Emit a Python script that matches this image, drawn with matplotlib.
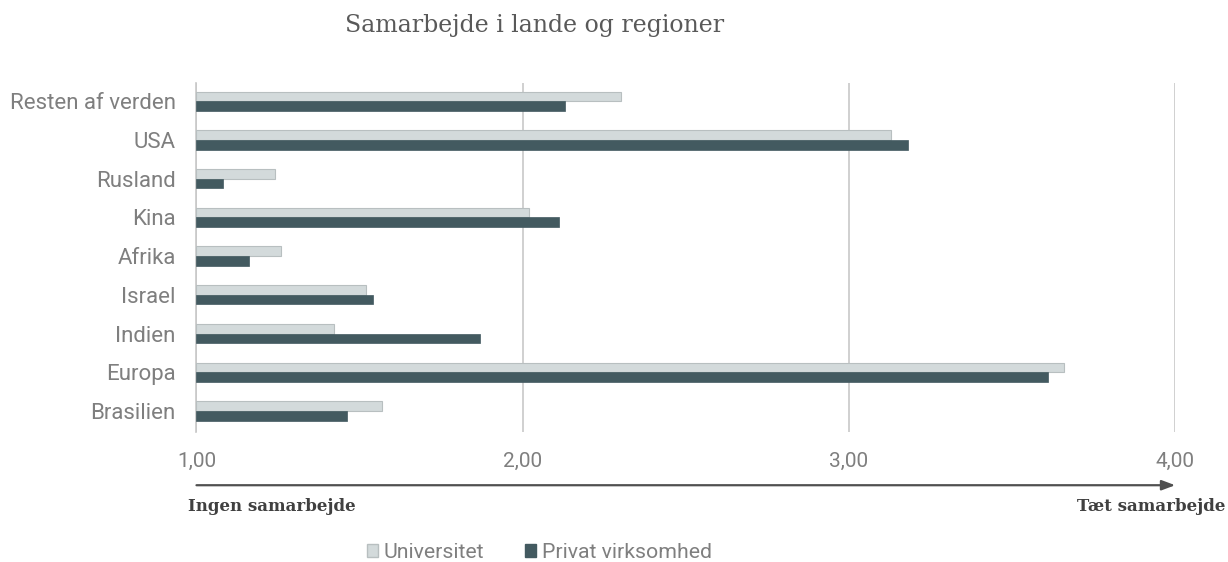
import numpy as np
import matplotlib
matplotlib.use("Agg")
import matplotlib.pyplot as plt
from matplotlib.patches import Patch

# categories listed bottom -> top
regions = ["Brasilien", "Europa", "Indien", "Israel", "Afrika", "Kina",
           "Rusland", "USA", "Resten af verden"]
universitet = [1.57, 3.66, 1.42, 1.52, 1.26, 2.02, 1.24, 3.13, 2.30]
privat = [1.46, 3.61, 1.87, 1.54, 1.16, 2.11, 1.08, 3.18, 2.13]
xticks = [1.0, 2.0, 3.0, 4.0]

UNI = "#d3dadb"
PRIV = "#435a60"
TEXT = "#7f7f7f"
DARK = "#404040"
GRID = "#c8c8c8"

fig = plt.figure(figsize=(12.28, 5.62), dpi=100)
ax = fig.add_axes([0.160, 0.231, 0.797, 0.621])

y = np.arange(len(regions))
h = 0.25
ax.barh(y + h / 2, np.array(universitet) - 1, h, left=1, color=UNI,
        edgecolor="#b8bfc0", linewidth=0.8, zorder=3)
ax.barh(y - h / 2, np.array(privat) - 1, h, left=1, color=PRIV,
        edgecolor=PRIV, linewidth=0.5, zorder=3)

ax.set_xlim(1.0, 4.0)
ax.set_ylim(-0.55, 8.47)
ax.set_yticks(y, regions)
ax.set_xticks(xticks, [f"{v:.2f}".replace(".", ",") for v in xticks])
ax.tick_params(axis="y", length=0, pad=15, labelsize=16, labelcolor=TEXT)
ax.tick_params(axis="x", length=0, pad=14, labelsize=15, labelcolor=TEXT)
for lbl in ax.get_xticklabels() + ax.get_yticklabels():
    lbl.set_family("Roboto")
ax.grid(axis="x", color=GRID, lw=1.2, zorder=0)
for s in ("top", "right", "bottom"):
    ax.spines[s].set_visible(False)
ax.spines["left"].set_color(GRID)
ax.spines["left"].set_linewidth(1.2)

fig.text(0.435, 0.955, "Samarbejde i lande og regioner", ha="center",
         va="center", fontsize=17, color="#595959", family="DejaVu Serif")

# direction arrow below the axis
ax.annotate("", xy=(4.0, -0.152), xytext=(1.0, -0.152),
            xycoords=("data", "axes fraction"),
            textcoords=("data", "axes fraction"),
            arrowprops=dict(arrowstyle="-|>,head_length=0.8,head_width=0.3",
                            color="#505050", lw=1.6, shrinkA=0, shrinkB=0))
fig.text(0.153, 0.099, "Ingen samarbejde", ha="left", va="center",
         fontsize=12, fontweight="bold", color=DARK, family="DejaVu Serif")
fig.text(0.998, 0.099, "Tæt samarbejde", ha="right", va="center",
         fontsize=12, fontweight="bold", color=DARK, family="DejaVu Serif")

handles = [Patch(facecolor=UNI, edgecolor="#b8bfc0", label="Universitet"),
           Patch(facecolor=PRIV, edgecolor=PRIV, label="Privat virksomhed")]
fig.legend(handles=handles, loc="center", bbox_to_anchor=(0.439, 0.017),
           ncols=2, frameon=False, labelcolor=TEXT,
           handlelength=0.55, handleheight=0.55, handletextpad=0.25,
           columnspacing=1.9, prop={"family": "Roboto", "size": 15.3})

fig.savefig("out.png", dpi=100, facecolor="white")
